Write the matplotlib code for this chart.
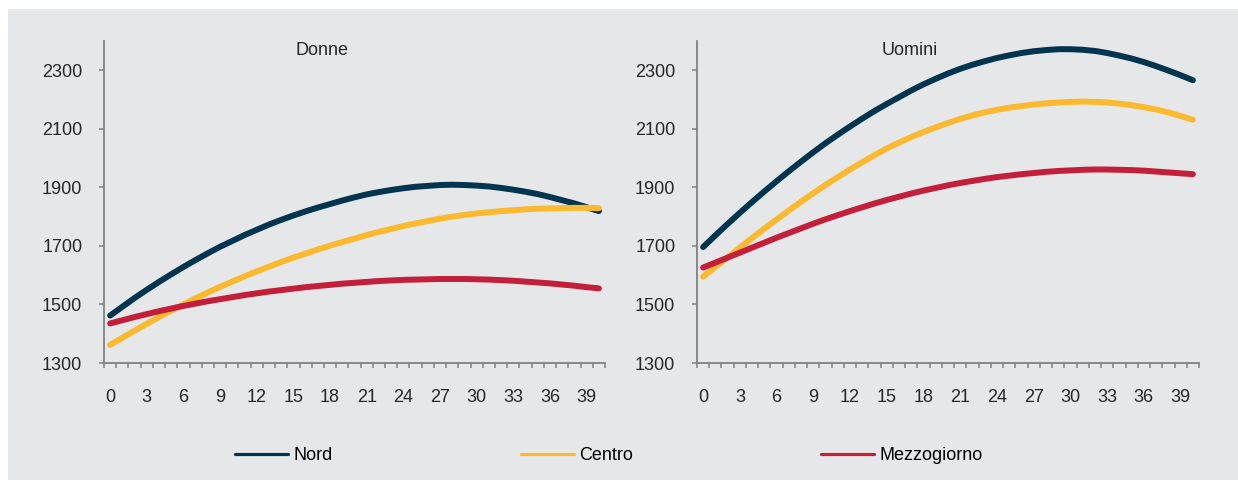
import numpy as np
import matplotlib
matplotlib.use("Agg")
import matplotlib.pyplot as plt
from matplotlib.patches import Rectangle

plt.rcParams['font.family'] = ['Liberation Sans', 'DejaVu Sans']
plt.rcParams['font.size'] = 13

# anni di anzianita' (0..40)
years = list(range(41))
xtick_labels = [str(v) for v in range(0, 40, 3)]

# Donne
donne_nord = [1462, 1492, 1522, 1550, 1577, 1603, 1628, 1652, 1675, 1697,
              1717, 1737, 1755, 1773, 1789, 1804, 1818, 1831, 1843, 1855,
              1866, 1876, 1884, 1891, 1897, 1902, 1905, 1908, 1909, 1908,
              1906, 1903, 1898, 1892, 1885, 1877, 1867, 1856, 1845, 1832, 1819]
donne_centro = [1362, 1386, 1410, 1434, 1457, 1479, 1500, 1521, 1541, 1560,
                1578, 1596, 1613, 1629, 1645, 1660, 1674, 1688, 1701, 1713,
                1725, 1737, 1748, 1758, 1768, 1777, 1785, 1793, 1800, 1806,
                1811, 1815, 1819, 1822, 1825, 1827, 1828, 1829, 1830, 1830, 1829]
donne_mezz = [1435, 1446, 1457, 1467, 1477, 1486, 1495, 1503, 1511, 1518,
              1525, 1532, 1538, 1544, 1549, 1554, 1559, 1563, 1567, 1571,
              1574, 1577, 1580, 1582, 1584, 1585, 1586, 1587, 1587, 1587,
              1586, 1585, 1583, 1581, 1578, 1575, 1572, 1568, 1564, 1559, 1555]

# Uomini
uomini_nord = [1696, 1736, 1775, 1813, 1850, 1886, 1921, 1955, 1988, 2020,
               2051, 2080, 2108, 2135, 2161, 2185, 2208, 2231, 2252, 2271,
               2289, 2305, 2319, 2331, 2342, 2351, 2359, 2365, 2369, 2372,
               2372, 2370, 2366, 2359, 2350, 2340, 2328, 2314, 2299, 2283, 2266]
uomini_centro = [1595, 1628, 1661, 1694, 1727, 1759, 1790, 1821, 1851, 1880,
                 1908, 1935, 1961, 1986, 2010, 2033, 2053, 2072, 2089, 2105,
                 2120, 2134, 2146, 2156, 2165, 2172, 2178, 2183, 2187, 2190,
                 2192, 2193, 2192, 2190, 2186, 2181, 2174, 2166, 2156, 2144, 2131]
uomini_mezz = [1626, 1643, 1660, 1677, 1694, 1711, 1728, 1744, 1760, 1776,
               1791, 1805, 1819, 1832, 1845, 1857, 1868, 1879, 1889, 1898,
               1907, 1915, 1922, 1929, 1935, 1940, 1945, 1949, 1953, 1956,
               1958, 1960, 1961, 1961, 1960, 1959, 1957, 1954, 1951, 1948, 1945]

labels = ["Nord", "Centro", "Mezzogiorno"]
colors = ["#00344f", "#fbb92f", "#c31f3a"]
panels = [("Donne", [donne_nord, donne_centro, donne_mezz], 0.435),
          ("Uomini", [uomini_nord, uomini_centro, uomini_mezz], 0.424)]

W, H = 1238, 480
fig = plt.figure(figsize=(W / 100, H / 100), dpi=100)
fig.patch.set_facecolor("white")
# gray panel behind the chart
bg = Rectangle((8 / W, 0), 1 - 8 / W, (H - 9) / H, transform=fig.transFigure,
               facecolor="#e6e7e9", edgecolor="none", zorder=-10)
fig.add_artist(bg)

axes_pos = [[104 / W, 117 / H, 501 / W, 322 / H],
            [697 / W, 117 / H, 502 / W, 322 / H]]

lines = []
for pos, (title, series, tx) in zip(axes_pos, panels):
    ax = fig.add_axes(pos)
    ax.set_facecolor("none")
    for vals, col, lab in zip(series, colors, labels):
        ln, = ax.plot(years, vals, color=col, lw=4.3, solid_capstyle="round", label=lab)
        lines.append(ln)
    ax.set_xlim(-0.5, 40.5)
    ax.set_ylim(1300, 2400)
    ax.set_yticks(range(1300, 2301, 200))
    ax.set_xticks(range(0, 40, 3))
    ax.set_xticklabels(xtick_labels)
    ax.set_xticks(np.arange(-0.5, 41, 1), minor=True)
    for s in ["top", "right"]:
        ax.spines[s].set_visible(False)
    for s in ["left", "bottom"]:
        ax.spines[s].set_color("#808080")
        ax.spines[s].set_linewidth(1.3)
    ax.tick_params(axis="y", length=3.6, width=1.1, color="#808080", pad=12,
                   labelsize=13, labelcolor="#262626")
    ax.tick_params(axis="x", which="major", length=0, pad=19,
                   labelsize=13, labelcolor="#262626")
    ax.tick_params(axis="x", which="minor", length=3.4, width=1.1, color="#808080")
    ax.text(tx, 0.972, title, transform=ax.transAxes, ha="center", va="center",
            fontsize=13, color="#262626")

fig.legend(lines[:3], labels, loc="center", bbox_to_anchor=(0.492, 0.05),
           ncol=3, frameon=False, fontsize=13, handlelength=2.95,
           handletextpad=0.3, columnspacing=10.4)
for lh in fig.legends[0].get_lines():
    lh.set_linewidth(2.3)

plt.savefig("out.png", dpi=100)
